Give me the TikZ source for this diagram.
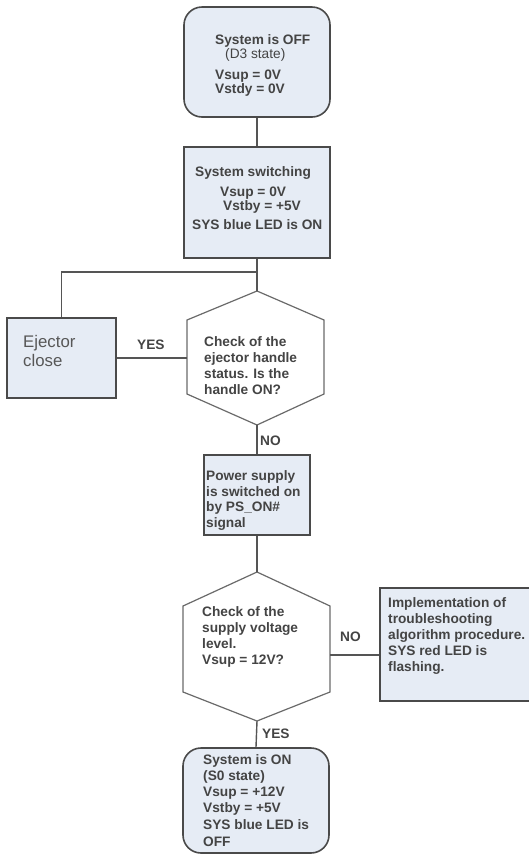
\documentclass[tikz,border=0pt]{standalone}
\usepackage{fontspec}
\setmainfont{Liberation Sans}
\definecolor{boxfill}{HTML}{E6ECF5}
\definecolor{boxline}{HTML}{4A4A4A}
\definecolor{conline}{HTML}{555555}
\definecolor{hexline}{HTML}{6A6A6A}
\definecolor{txtcol}{HTML}{444444}
\tikzset{
  box/.style={draw=boxline, line width=1.6pt, fill=boxfill, inner sep=0pt},
  hexa/.style={draw=hexline, line width=1.2pt, fill=white},
  conn/.style={draw=conline, line width=1.4pt},
  txt/.style={anchor=base west, inner sep=0pt, text=txtcol, font=\fontsize{13.7}{16}\selectfont\bfseries},
  txtr/.style={anchor=base west, inner sep=0pt, text=txtcol, font=\fontsize{13.7}{16}\selectfont},
  txtbig/.style={anchor=base west, inner sep=0pt, text=txtcol!90, font=\fontsize{16.8}{19}\selectfont}
}
\begin{document}
\begin{tikzpicture}[x=1pt,y=-1pt]
\clip (0,0) rectangle (529,855);
\fill[white] (0,0) rectangle (529,855);

% boxes
\node[box, rounded corners=18pt, minimum width=146pt, minimum height=110pt] (b1) at (257,62) {};
\node[box, minimum width=146pt, minimum height=111pt] (b2) at (257,202.5) {};
\node[box, minimum width=109pt, minimum height=80pt] (ej) at (61.5,358) {};
\node[box, minimum width=106pt, minimum height=80pt] (b3) at (257,495) {};
\node[box, minimum width=151pt, minimum height=113pt] (rb) at (455.5,644.5) {};
\node[box, rounded corners=18pt, minimum width=146pt, minimum height=105pt] (b4) at (256,800.5) {};

% hexagons
\draw[hexa] (257,291) coordinate (h1t) -- (324,320) -- (324,394) -- (257,425) coordinate (h1b)
  -- (187,394) -- (187,320) -- cycle;
\coordinate (h1w) at (187,358);
\draw[hexa] (257,572) coordinate (h2t) -- (330,606) -- (330,692) -- (257,721) coordinate (h2b)
  -- (183,692) -- (183,606) -- cycle;
\coordinate (h2e) at (330,655);
\coordinate (J) at (257,272);

% connectors
\draw[conn] (b1.south) -- (b2.north);
\draw[conn] (b2.south) -- (h1t);
\draw[conn] (J) -| (ej.north);
\draw[conn] (ej.east) -- (h1w);
\draw[conn] (h1b) -- (b3.north);
\draw[conn] (b3.south) -- (h2t);
\draw[conn] (h2e) -- (h2e -| rb.west);
\draw[conn] (h2b) -- (b4.north);

% labels
\node[txt] (lyes1) at (137,349) {YES};
\node[txt] (lno1) at (260,445) {NO};
\node[txt] (lno2) at (340,641) {NO};
\node[txt] (lyes2) at (262,738) {YES};

% box 1 text
\node[txt] (t1a) at (215,44.5) {System is OFF};
\node[txtr] (t1b) at (225,58.5) {(D3 state)};
\node[txt] (t1c) at (215,79.5) {Vsup = 0V};
\node[txt] (t1d) at (215,93) {Vstdy = 0V};

% box 2 text
\node[txt] (t2a) at (195,176) {System switching};
\node[txt] (t2b) at (220,196) {Vsup = 0V};
\node[txt] (t2c) at (223,210) {Vstby = +5V};
\node[txt] (t2d) at (192,229.5) {SYS blue LED is ON};

% ejector text
\node[txtbig] (tea) at (23,347.5) {Ejector};
\node[txtbig] (teb) at (23,366) {close};

% hexagon 1 text
\node[txt] (th1a) at (204,346.5) {Check of the};
\node[txt] (th1b) at (204,362.5) {ejector handle};
\node[txt] (th1c) at (204,378.5) {status. Is the};
\node[txt] (th1d) at (204,394.5) {handle ON?};

% box 3 text
\node[txt] (t3a) at (206,480.5) {Power supply};
\node[txt] (t3b) at (206,496) {is switched on};
\node[txt] (t3c) at (206,511.5) {by PS\_ON\#};
\node[txt] (t3d) at (206,527) {signal};

% hexagon 2 text
\node[txt] (th2a) at (202,616.5) {Check of the};
\node[txt] (th2b) at (202,632.5) {supply voltage};
\node[txt] (th2c) at (202,648.5) {level.};
\node[txt] (th2d) at (202,664.5) {Vsup = 12V?};

% right box text
\node[txt] (tra) at (388,607.5) {Implementation of};
\node[txt] (trb) at (388,623.5) {troubleshooting};
\node[txt] (trc) at (388,639.5) {algorithm procedure.};
\node[txt] (trd) at (388,655.5) {SYS red LED is};
\node[txt] (tre) at (388,671.5) {flashing.};

% box 4 text
\node[txt] (t4a) at (203,764) {System is ON};
\node[txt] (t4b) at (203,780) {(S0 state)};
\node[txt] (t4c) at (203,796) {Vsup = +12V};
\node[txt] (t4d) at (203,812) {Vstby = +5V};
\node[txt] (t4e) at (203,829) {SYS blue LED is};
\node[txt] (t4f) at (203,846) {OFF};
\end{tikzpicture}
\end{document}
